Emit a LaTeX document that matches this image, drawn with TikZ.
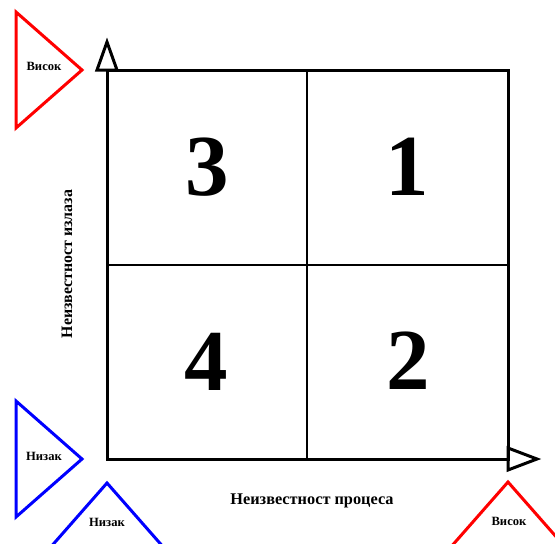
\documentclass[tikz,border=0pt]{standalone}
\usepackage{fontspec}
\setmainfont{Liberation Serif}
\begin{document}
\begin{tikzpicture}[x=1pt,y=-1pt,
 axis/.style={line width=3pt, line join=miter},
 divider/.style={line width=2.6pt},
 tri/.style={line width=3pt, line join=miter},
 redtri/.style={tri, draw={rgb,255:red,255;green,0;blue,0}},
 bluetri/.style={tri, draw={rgb,255:red,0;green,0;blue,255}},
 lbl/.style={font=\bfseries\fontsize{12.6}{14}\selectfont, inner sep=0},
 num/.style={font=\bfseries\fontsize{87}{90}\selectfont, inner sep=0},
 axlbl/.style={font=\bfseries\fontsize{16.3}{18}\selectfont, inner sep=0}]
\useasboundingbox (0,0) rectangle (555,544);
% square corners
\coordinate (TL) at (107,70);
\coordinate (TR) at (508,70);
\coordinate (BL) at (107,459);
\coordinate (BR) at (508,459);
\coordinate (TM) at (307,70);
\coordinate (BM) at (307,459);
\coordinate (LM) at (107,265);
\coordinate (RM) at (508,265);
% arrow heads
\coordinate (ua1) at (97,70);
\coordinate (uap) at (107,42);
\coordinate (ua2) at (117,70);
\coordinate (ra1) at (508,448);
\coordinate (rap) at (537,459);
\coordinate (ra2) at (508,470);
\draw[axis] (BL) -- (TL) -- (TR) -- (BR) -- cycle;
\draw[divider] (TM) -- (BM);
\draw[divider] (LM) -- (RM);
\draw[axis] (ua1) -- (uap) -- (ua2) -- cycle;
\draw[axis] (ra1) -- (rap) -- (ra2) -- cycle;
% quadrant numbers
\node[num] (q3) at (207,167) {3};
\node[num] (q1) at (407,167) {1};
\node[num] (q4) at (206,362) {4};
\node[num] (q2) at (408,361) {2};
% axis labels
\node[axlbl] (xl) at (312,501) {Неизвестност процеса};
\node[axlbl, rotate=90, font=\bfseries\fontsize{15.9}{18}\selectfont] (yl) at (67,264) {Неизвестност излаза};
% level triangles
\draw[redtri] (16,12) -- (16,128) -- (82,70) -- cycle;
\node[lbl] (yhigh) at (44,66) {Висок};
\draw[bluetri] (16,401) -- (16,517) -- (82,459) -- cycle;
\node[lbl] (ylow) at (44,456) {Низак};
\draw[bluetri] (107,483) -- (49,549) -- (165,549) -- cycle;
\node[lbl] (xlow) at (107,522) {Низак};
\draw[redtri] (508,482) -- (450,548) -- (566,548) -- cycle;
\node[lbl] (xhigh) at (509,521) {Висок};
\end{tikzpicture}
\end{document}
